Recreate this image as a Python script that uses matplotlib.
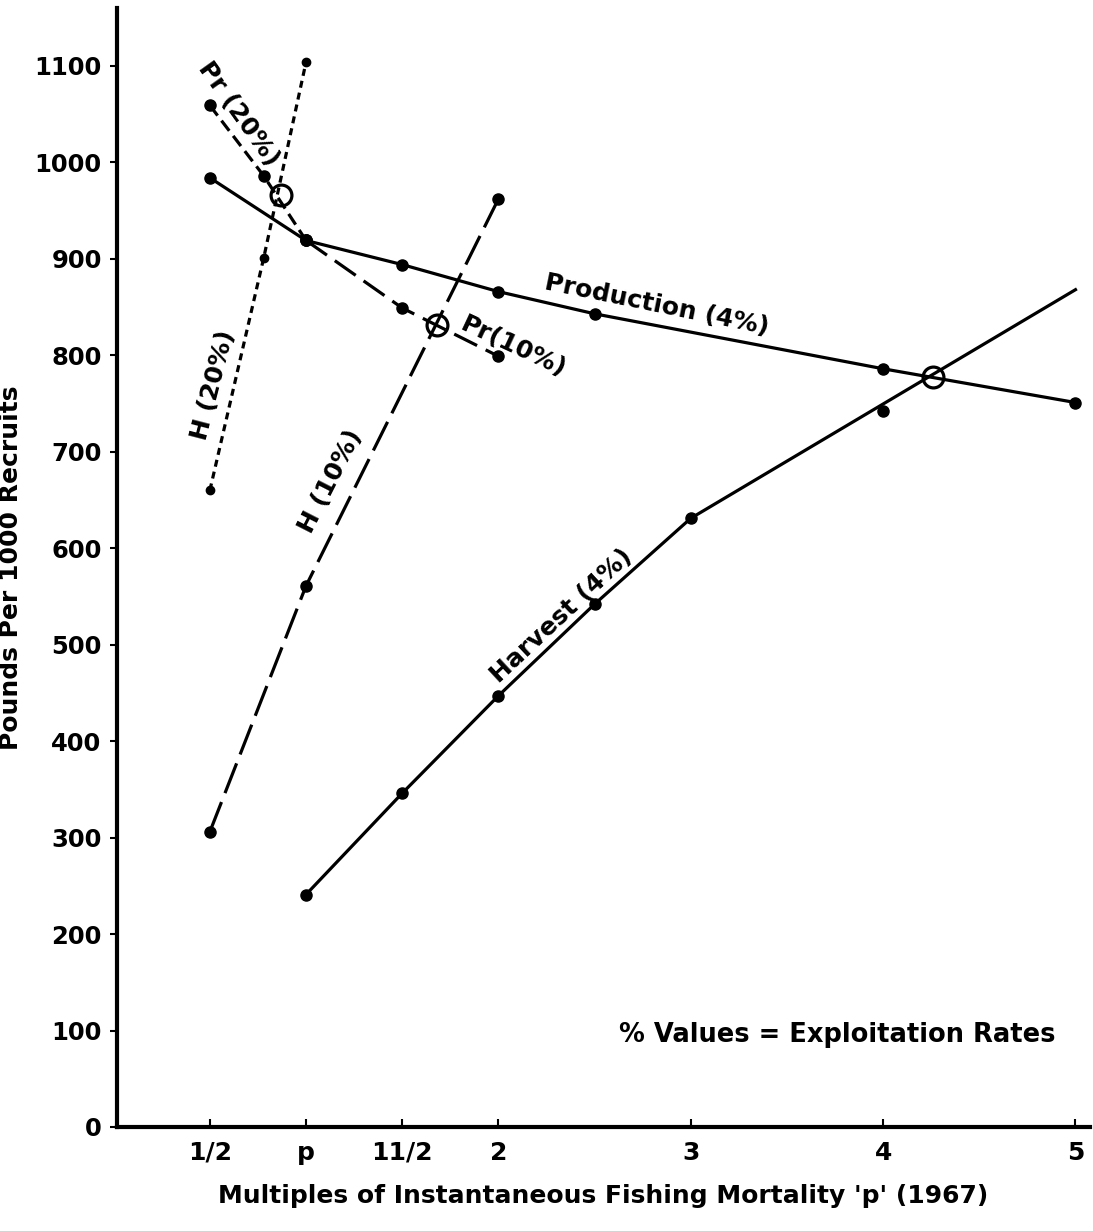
import matplotlib
matplotlib.use("Agg")
import matplotlib.pyplot as plt

plt.rcParams["font.family"] = ["DejaVu Sans"]
plt.rcParams["font.weight"] = "bold"

# ===================== 数据 =====================
# 产量 Production (4%)
prod_x = [0.5, 1.0, 1.5, 2.0, 2.5, 4.0, 5.0]
prod_y = [984, 919, 894, 866, 843, 786, 751]

# 渔获 Harvest (4%) —— 圆点 + 线末端
harv_x = [1.0, 1.5, 2.0, 2.5, 3.0, 4.0]
harv_y = [241, 346, 447, 542, 631, 742]
harv_line_x = [1.0, 1.5, 2.0, 2.5, 3.0, 5.0]
harv_line_y = [241, 346, 447, 542, 631, 868]

# Pr (20%) / Pr (10%)
pr20_x = [0.5, 0.78, 1.0]
pr20_y = [1059, 986, 919]
pr10_x = [1.0, 1.5, 2.0]
pr10_y = [919, 849, 799]

# H (20%) / H (10%)
h20_x = [0.5, 0.78, 1.0]
h20_y = [660, 901, 1104]
h10_x = [0.5, 1.0, 2.0]
h10_y = [306, 561, 962]

# 交点圆圈
cross_x = [0.87, 1.68, 4.26]
cross_y = [966, 831, 777]

xtick_pos = [0.5, 1.0, 1.5, 2.0, 3.0, 4.0, 5.0]
xtick_lab = ["1/2", "p", "11/2", "2", "3", "4", "5"]
ytick_pos = list(range(0, 1101, 100))

# ===================== 绘图 =====================
fig = plt.figure(figsize=(10.93, 12.31), dpi=100)
ax = fig.add_axes([0.107, 0.0845, 0.890, 0.909])

lw = 2.3
ms = 8
ax.plot(prod_x, prod_y, color="black", lw=lw, marker="o", ms=ms)
ax.plot(harv_line_x, harv_line_y, color="black", lw=lw)
ax.plot(harv_x, harv_y, color="black", lw=0, marker="o", ms=ms)
ax.plot(pr20_x, pr20_y, color="black", lw=lw, marker="o", ms=ms, dashes=(4, 2))
ax.plot(pr10_x, pr10_y, color="black", lw=lw, marker="o", ms=ms, dashes=(8, 3))
ax.plot(h20_x, h20_y, color="black", lw=lw, marker="o", ms=6, dashes=(2.2, 1.6))
ax.plot(h10_x, h10_y, color="black", lw=lw, marker="o", ms=ms, dashes=(10, 3))
ax.plot(cross_x, cross_y, lw=0, marker="o", ms=15, mfc="none", mec="black", mew=2.3)

# 曲线标注
lab_kw = dict(fontsize=18, fontweight="bold", ha="center", va="center")
ax.text(0.65, 1050, "Pr (20%)", rotation=-54.5, **lab_kw)
ax.text(2.824, 852, "Production (4%)", rotation=-11.5, **lab_kw)
ax.text(2.08, 809, "Pr(10%)", rotation=-25, **lab_kw)
ax.text(0.52, 769, "H (20%)", rotation=75.5, **lab_kw)
ax.text(1.13, 669, "H (10%)", rotation=63, **lab_kw)
ax.text(2.33, 530, "Harvest (4%)", rotation=43, **lab_kw)
ax.text(3.76, 95, "% Values = Exploitation Rates", fontsize=18.5,
        fontweight="bold", ha="center", va="center")

ax.set_xlim(0.017, 5.074)
ax.set_ylim(0, 1160)
ax.spines["top"].set_visible(False)
ax.spines["right"].set_visible(False)
ax.spines["left"].set_linewidth(3)
ax.spines["bottom"].set_linewidth(3)

ax.set_xticks(xtick_pos)
ax.set_xticklabels(xtick_lab)
ax.set_yticks(ytick_pos)
ax.tick_params(axis="x", direction="in", length=6, width=1.5, labelsize=18, pad=10)
ax.tick_params(axis="y", direction="out", length=5, width=1.5, labelsize=17.5, pad=6)

ax.set_xlabel("Multiples of Instantaneous Fishing Mortality 'p' (1967)",
              fontsize=18, fontweight="bold", labelpad=14)
ax.set_ylabel("Pounds Per 1000 Recruits", fontsize=18, fontweight="bold", labelpad=8)

plt.savefig("out.png", dpi=100)
plt.close()
